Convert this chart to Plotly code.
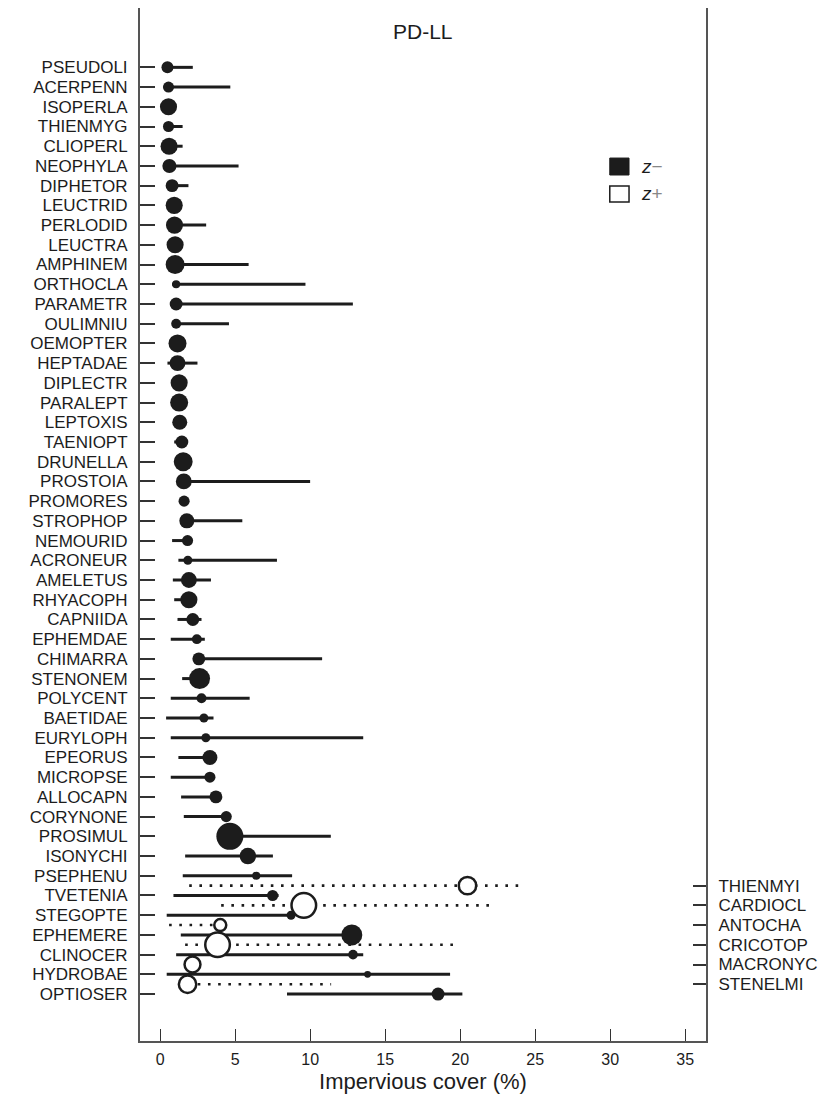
import plotly.graph_objects as go

# ---------------- data ----------------
# z- taxa (left axis), top to bottom
neg_taxa = ["PSEUDOLI", "ACERPENN", "ISOPERLA", "THIENMYG", "CLIOPERL", "NEOPHYLA",
            "DIPHETOR", "LEUCTRID", "PERLODID", "LEUCTRA", "AMPHINEM", "ORTHOCLA",
            "PARAMETR", "OULIMNIU", "OEMOPTER", "HEPTADAE", "DIPLECTR", "PARALEPT",
            "LEPTOXIS", "TAENIOPT", "DRUNELLA", "PROSTOIA", "PROMORES", "STROPHOP",
            "NEMOURID", "ACRONEUR", "AMELETUS", "RHYACOPH", "CAPNIIDA", "EPHEMDAE",
            "CHIMARRA", "STENONEM", "POLYCENT", "BAETIDAE", "EURYLOPH", "EPEORUS",
            "MICROPSE", "ALLOCAPN", "CORYNONE", "PROSIMUL", "ISONYCHI", "PSEPHENU",
            "TVETENIA", "STEGOPTE", "EPHEMERE", "CLINOCER", "HYDROBAE", "OPTIOSER"]
neg_cp = [0.49, 0.56, 0.56, 0.56, 0.60, 0.62, 0.80, 0.94, 0.96, 1.00, 1.00, 1.07,
          1.07, 1.07, 1.16, 1.16, 1.27, 1.27, 1.31, 1.45, 1.54, 1.58, 1.60, 1.78,
          1.83, 1.85, 1.92, 1.92, 2.18, 2.45, 2.58, 2.63, 2.76, 2.92, 3.05, 3.32,
          3.32, 3.72, 4.41, 4.65, 5.85, 6.41, 7.50, 8.73, 12.78, 12.86, 13.83, 18.53]
neg_lo = [0.35, 0.40, 0.56, 0.45, 0.50, 0.50, 0.70, 0.94, 0.90, 1.00, 0.95, 0.80,
          1.00, 1.00, 1.16, 0.49, 1.27, 1.27, 1.31, 0.94, 1.54, 1.50, 1.60, 1.70,
          0.80, 1.22, 0.85, 0.94, 1.16, 0.71, 2.30, 1.47, 0.71, 0.40, 0.71, 1.22,
          0.71, 1.40, 1.58, 4.30, 1.67, 1.51, 0.89, 0.44, 1.38, 1.07, 0.44, 8.46]
neg_hi = [2.18, 4.68, 0.56, 1.50, 1.50, 5.23, 1.89, 0.94, 3.07, 1.00, 5.90, 9.69,
          12.85, 4.59, 1.16, 2.49, 1.27, 1.27, 1.31, 1.78, 1.54, 10.00, 1.60, 5.48,
          1.90, 7.79, 3.39, 2.20, 2.76, 2.98, 10.80, 2.80, 5.97, 3.56, 13.54, 3.40,
          3.40, 3.80, 4.60, 11.38, 7.52, 8.80, 7.90, 8.80, 12.90, 13.54, 19.33, 20.15]
neg_purity = [0.40, 0.37, 0.57, 0.37, 0.57, 0.47, 0.43, 0.57, 0.57, 0.57, 0.63, 0.27,
              0.43, 0.33, 0.60, 0.53, 0.57, 0.60, 0.50, 0.43, 0.63, 0.53, 0.37, 0.50,
              0.37, 0.30, 0.53, 0.57, 0.43, 0.33, 0.43, 0.70, 0.33, 0.30, 0.30, 0.50,
              0.37, 0.43, 0.37, 0.90, 0.55, 0.27, 0.37, 0.30, 0.70, 0.32, 0.23, 0.43]

# z+ taxa (right axis), top to bottom
pos_taxa = ["THIENMYI", "CARDIOCL", "ANTOCHA", "CRICOTOP", "MACRONYC", "STENELMI"]
pos_cp = [20.49, 9.58, 4.01, 3.83, 2.16, 1.83]
pos_lo = [1.94, 4.07, 0.60, 1.67, 2.16, 1.83]
pos_hi = [23.90, 21.98, 4.01, 19.53, 2.16, 11.40]
pos_purity = [0.58, 0.82, 0.40, 0.82, 0.53, 0.58]

x_ticks = [0, 5, 10, 15, 20, 25, 30, 35]

# ---------------- layout helpers ----------------
FONT = "Liberation Sans, Arial, Helvetica, sans-serif"
INK = "#1c1c1c"
SIZE_SCALE = 30  # purity -> marker diameter (px)

neg_y = list(range(len(neg_taxa)))
pos_y = [41.5 + i for i in range(len(pos_taxa))]

fig = go.Figure()

# solid CI lines (z-)
lx, ly = [], []
for lo, hi, y in zip(neg_lo, neg_hi, neg_y):
    lx += [lo, hi, None]
    ly += [y, y, None]
fig.add_trace(go.Scatter(x=lx, y=ly, mode="lines",
                         line=dict(color=INK, width=3), hoverinfo="skip",
                         showlegend=False))

# dotted CI lines (z+)
dx, dy = [], []
for lo, hi, y in zip(pos_lo, pos_hi, pos_y):
    dx += [lo, hi, None]
    dy += [y, y, None]
fig.add_trace(go.Scatter(x=dx, y=dy, mode="lines",
                         line=dict(color=INK, width=2.6, dash="2.6px,7.6px"),
                         hoverinfo="skip", showlegend=False))

# z- filled circles
fig.add_trace(go.Scatter(x=neg_cp, y=neg_y, mode="markers",
                         marker=dict(color=INK, opacity=1,
                                     size=[p * SIZE_SCALE for p in neg_purity],
                                     line=dict(width=0)),
                         text=neg_taxa, showlegend=False))

# z+ open circles
fig.add_trace(go.Scatter(x=pos_cp, y=pos_y, mode="markers",
                         marker=dict(color="white", opacity=1,
                                     size=[p * SIZE_SCALE for p in pos_purity],
                                     line=dict(width=2.5, color=INK)),
                         text=pos_taxa, showlegend=False))

# invisible trace to activate the right axis
fig.add_trace(go.Scatter(x=[None], y=[None], yaxis="y2", showlegend=False))

YR = [49.38, -3.01]
LBL = 17

fig.update_layout(
    width=820, height=1087,
    margin=dict(l=132, r=122, t=0, b=54, autoexpand=False),
    paper_bgcolor="white", plot_bgcolor="white",
    font=dict(family=FONT, color=INK),
    xaxis=dict(range=[-1.34, 36.39], tickvals=x_ticks, ticks="inside", ticklen=12,
               tickwidth=1.2, tickcolor="#333", showline=True, linecolor="#555",
               linewidth=2, showgrid=False, zeroline=False, automargin=False,
               tickfont=dict(size=16, family=FONT), ticklabelstandoff=3,
               title=dict(text="Impervious cover (%)", font=dict(size=22, family=FONT),
                          standoff=6)),
    yaxis=dict(range=YR, tickvals=neg_y, ticktext=neg_taxa, ticks="inside", ticklen=15,
               tickwidth=1.5, tickcolor="#333", showline=True, linecolor="#555",
               linewidth=2, showgrid=False, zeroline=False, automargin=False,
               tickfont=dict(size=LBL, family=FONT), ticklabelstandoff=7),
    yaxis2=dict(range=YR, overlaying="y", side="right", tickvals=pos_y,
                ticktext=pos_taxa, ticks="inside", ticklen=13, tickwidth=1.5,
                tickcolor="#333", showline=True, linecolor="#555", linewidth=2,
                showgrid=False, zeroline=False, automargin=False,
                tickfont=dict(size=LBL, family=FONT), ticklabelstandoff=7),
)

# title
fig.add_annotation(text="PD-LL", xref="paper", yref="y", x=0.5, y=-1.8,
                   showarrow=False, font=dict(size=21, family=FONT, color=INK))

# legend (drawn manually)
fig.add_shape(type="rect", xref="paper", yref="y", x0=0.830, x1=0.864, y0=4.6, y1=5.46,
              fillcolor=INK, line=dict(color=INK, width=1))
fig.add_shape(type="rect", xref="paper", yref="y", x0=0.830, x1=0.864, y0=6.02, y1=6.83,
              fillcolor="white", line=dict(color=INK, width=1.5))
fig.add_annotation(text="<i>z</i><span style='color:#888'>−</span>", xref="paper", yref="y",
                   x=0.882, y=5.05, xanchor="left", showarrow=False,
                   font=dict(size=19, family=FONT, color=INK))
fig.add_annotation(text="<i>z</i><span style='color:#888'>+</span>", xref="paper", yref="y",
                   x=0.882, y=6.42, xanchor="left", showarrow=False,
                   font=dict(size=19, family=FONT, color=INK))

fig.write_html("out.html")
